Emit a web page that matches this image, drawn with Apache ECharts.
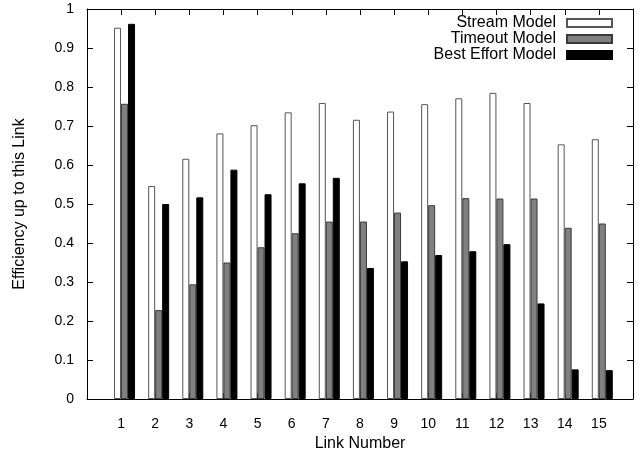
<!DOCTYPE html>
<html>
<head>
<meta charset="utf-8">
<script src="https://cdn.jsdelivr.net/npm/echarts@6/dist/echarts.min.js"></script>
<style>
  html, body { margin: 0; padding: 0; background: #fff; }
  #chart { width: 644px; height: 453px; }
</style>
</head>
<body>
<div id="chart"></div>
<script>
// 数据
var links = [1, 2, 3, 4, 5, 6, 7, 8, 9, 10, 11, 12, 13, 14, 15];
var yTicks = [0, 0.1, 0.2, 0.3, 0.4, 0.5, 0.6, 0.7, 0.8, 0.9, 1];
var streamModel = [0.952, 0.546, 0.616, 0.681, 0.702, 0.735, 0.759, 0.716, 0.737, 0.756, 0.771, 0.785, 0.759, 0.653, 0.666];
var timeoutModel = [0.757, 0.228, 0.294, 0.350, 0.389, 0.425, 0.455, 0.455, 0.478, 0.497, 0.515, 0.514, 0.514, 0.439, 0.450];
var bestEffortModel = [0.962, 0.500, 0.517, 0.588, 0.525, 0.553, 0.567, 0.336, 0.353, 0.369, 0.379, 0.397, 0.245, 0.076, 0.074];

function pairs(vals) {
    return links.map(function (l, i) { return [l, vals[i]]; });
}

var myChart = echarts.init(document.getElementById('chart'));

var font = 'Liberation Sans, Arial, sans-serif';
var axisLine = { show: true, onZero: false, lineStyle: { color: '#000', width: 1 } };
var tickIn = { show: true, inside: true, length: 6, lineStyle: { color: '#000' } };

var option = {
    animation: false,
    backgroundColor: '#fff',
    textStyle: { fontFamily: font },
    grid: {
        left: 87,
        right: 11,
        top: 9,
        bottom: 54,
        outerBoundsMode: 'none'
    },
    legend: {
        orient: 'vertical',
        right: 31,
        top: 15,
        padding: 0,
        itemGap: 0,
        itemWidth: 45,
        itemHeight: 8,
        align: 'right',
        icon: 'rect',
        textStyle: { fontSize: 16, color: '#000', fontFamily: font, padding: [0, 6, 0, 0] },
        data: ['Stream Model', 'Timeout Model', 'Best Effort Model']
    },
    xAxis: [
        {
            type: 'value',
            position: 'bottom',
            min: 0,
            max: 16,
            interval: 1,
            name: 'Link Number',
            nameLocation: 'middle',
            nameGap: 32,
            nameTextStyle: { fontSize: 16, color: '#000', fontFamily: font },
            axisLine: axisLine,
            axisTick: tickIn,
            splitLine: { show: false },
            axisLabel: {
                fontSize: 14,
                color: '#000',
                margin: 18,
                formatter: function (v) {
                    return links.indexOf(v) >= 0 ? String(v) : '';
                }
            }
        },
        {
            type: 'value',
            position: 'top',
            min: 0,
            max: 16,
            interval: 1,
            axisLine: axisLine,
            axisTick: tickIn,
            splitLine: { show: false },
            axisLabel: { show: false }
        },
        {
            // 柱子用的隐藏轴, 整组略微右移
            type: 'value',
            min: -0.1,
            max: 15.9,
            show: false
        }
    ],
    yAxis: [
        {
            type: 'value',
            position: 'left',
            min: yTicks[0],
            max: yTicks[yTicks.length - 1],
            interval: 0.1,
            name: 'Efficiency up to this Link',
            nameLocation: 'middle',
            nameGap: 59,
            nameTextStyle: { fontSize: 16, color: '#000', fontFamily: font },
            axisLine: axisLine,
            axisTick: tickIn,
            splitLine: { show: false },
            axisLabel: { fontSize: 14, color: '#000', margin: 13 }
        },
        {
            type: 'value',
            position: 'right',
            min: yTicks[0],
            max: yTicks[yTicks.length - 1],
            interval: 0.1,
            axisLine: axisLine,
            axisTick: tickIn,
            splitLine: { show: false },
            axisLabel: { show: false }
        }
    ],
    series: [
        {
            name: 'Stream Model',
            type: 'bar',
            xAxisIndex: 2,
            yAxisIndex: 0,
            barWidth: 7,
            barGap: '0%',
            itemStyle: { color: '#fff', borderColor: '#555', borderWidth: 1 },
            data: pairs(streamModel)
        },
        {
            name: 'Timeout Model',
            type: 'bar',
            xAxisIndex: 2,
            yAxisIndex: 0,
            barWidth: 7,
            barGap: '0%',
            itemStyle: { color: '#808080', borderColor: '#3a3a3a', borderWidth: 1 },
            data: pairs(timeoutModel)
        },
        {
            name: 'Best Effort Model',
            type: 'bar',
            xAxisIndex: 2,
            yAxisIndex: 0,
            barWidth: 7,
            barGap: '0%',
            itemStyle: { color: '#000', borderColor: '#000', borderWidth: 1 },
            data: pairs(bestEffortModel)
        }
    ]
};

myChart.setOption(option);
</script>
</body>
</html>
